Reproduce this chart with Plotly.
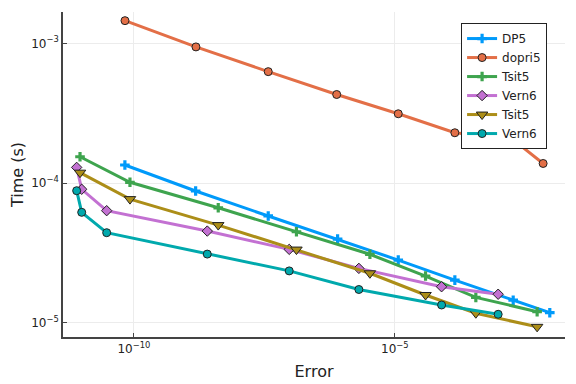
import plotly.graph_objects as go

# Data (error, time in seconds)
dp5_err = [6.7e-11, 1.52e-9, 3.74e-8, 7.98e-7, 1.16e-5, 1.41e-4, 1.85e-3, 9.3e-3]
dp5_time = [1.346e-4, 8.77e-5, 5.81e-5, 3.97e-5, 2.81e-5, 2.02e-5, 1.45e-5, 1.18e-5]

dopri5_err = [6.73e-11, 1.54e-9, 3.74e-8, 7.67e-7, 1.16e-5, 1.41e-4, 1.77e-3, 6.93e-3]
dopri5_time = [1.452e-3, 9.42e-4, 6.27e-4, 4.30e-4, 3.13e-4, 2.29e-4, 2.07e-4, 1.38e-4]

tsit5_err = [9.25e-12, 8.38e-11, 4.12e-9, 1.30e-7, 3.32e-6, 3.87e-5, 3.56e-4, 5.32e-3]
tsit5_time = [1.542e-4, 1.012e-4, 6.65e-5, 4.48e-5, 3.09e-5, 2.16e-5, 1.52e-5, 1.20e-5]

vern6_err = [7.98e-12, 9.96e-12, 3.0e-11, 2.54e-9, 9.44e-8, 2.04e-6, 7.85e-5, 9.53e-4]
vern6_time = [1.294e-4, 9.02e-5, 6.34e-5, 4.53e-5, 3.35e-5, 2.45e-5, 1.81e-5, 1.60e-5]

tsit5b_err = [9.25e-12, 8.38e-11, 4.12e-9, 1.30e-7, 3.32e-6, 3.87e-5, 3.56e-4, 5.32e-3]
tsit5b_time = [1.186e-4, 7.67e-5, 5.00e-5, 3.34e-5, 2.26e-5, 1.58e-5, 1.17e-5, 9.35e-6]

vern6b_err = [7.98e-12, 9.96e-12, 3.0e-11, 2.54e-9, 9.44e-8, 2.04e-6, 7.85e-5, 9.53e-4]
vern6b_time = [8.81e-5, 6.17e-5, 4.41e-5, 3.10e-5, 2.35e-5, 1.73e-5, 1.34e-5, 1.15e-5]

x_tickvals = [1e-10, 1e-5]
x_ticktext = ["10<sup>\u221210</sup>", "10<sup>\u22125</sup>"]
y_tickvals = [1e-5, 1e-4, 1e-3]
y_ticktext = ["10<sup>\u22125</sup>", "10<sup>\u22124</sup>", "10<sup>\u22123</sup>"]

series = [
    ("DP5", dp5_err, dp5_time, "#009AFA", "cross"),
    ("dopri5", dopri5_err, dopri5_time, "#E36F47", "circle"),
    ("Tsit5", tsit5_err, tsit5_time, "#3EA44E", "cross"),
    ("Vern6", vern6_err, vern6_time, "#C371D2", "diamond"),
    ("Tsit5", tsit5b_err, tsit5b_time, "#AC8E18", "triangle-down"),
    ("Vern6", vern6b_err, vern6b_time, "#00A9AD", "circle"),
]

sizes = {"cross": 8, "circle": 8, "diamond": 8, "triangle-down": 10}

fig = go.Figure()
for name, x, y, color, sym in series:
    outline = 0 if sym == "cross" else 1
    fig.add_trace(go.Scatter(
        x=x, y=y, name=name, mode="lines+markers",
        line=dict(color=color, width=3),
        marker=dict(symbol=sym, size=sizes[sym], color=color,
                    line=dict(color="#222222", width=outline)),
    ))

axis_common = dict(
    type="log", showline=True, linecolor="#444444", linewidth=1.5,
    mirror=False, showgrid=True, gridcolor="#ececec", gridwidth=1,
    zeroline=False, ticks="inside", ticklen=4, tickcolor="#444444",
    tickfont=dict(size=12, color="#222222"), automargin=False,
)

# the page body adds an 8px offset, so the figure is 8px smaller on each leading edge
fig.update_layout(
    width=568, height=376,
    margin=dict(l=55, r=11, t=4, b=47),
    paper_bgcolor="white", plot_bgcolor="white",
    font=dict(family="DejaVu Sans", color="#222222"),
    xaxis=dict(axis_common, range=[-11.36, -1.74],
               tickvals=x_tickvals, ticktext=x_ticktext,
               title=dict(text="Error", font=dict(size=16), standoff=11)),
    yaxis=dict(axis_common, range=[-5.102, -2.776],
               tickvals=y_tickvals, ticktext=y_ticktext,
               title=dict(text="Time (s)", font=dict(size=16), standoff=6)),
    legend=dict(x=0.793, y=0.966, xanchor="left", yanchor="top",
                bordercolor="#222222", borderwidth=1, bgcolor="white",
                font=dict(size=12), tracegroupgap=0),
    showlegend=True,
)

fig.write_html("out.html")
